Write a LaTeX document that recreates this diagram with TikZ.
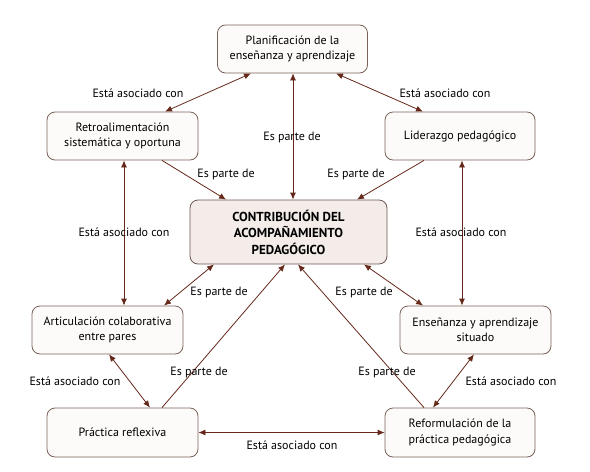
\documentclass[tikz,border=0pt]{standalone}
\usepackage{fontspec}
\setmainfont{PT Sans}
\usetikzlibrary{arrows.meta}
\definecolor{boxline}{HTML}{7A625A}
\definecolor{boxfill}{HTML}{FDFBF9}
\definecolor{mainfill}{HTML}{F3ECE8}
\definecolor{arr}{HTML}{65281A}
\tikzset{
  x=1pt,y=1pt,
  box/.style={draw=boxline,fill=boxfill,rounded corners=8pt,line width=0.8pt,align=center,inner sep=0pt,font=\fontsize{12}{15.5}\selectfont,text=black},
  mainbox/.style={box,fill=mainfill,draw=boxline!90!black,font=\bfseries\fontsize{13}{16.5}\selectfont},
  lbl/.style={font=\fontsize{12}{14}\selectfont,inner sep=0pt,text=black},
  con/.style={draw=arr,line width=0.8pt,-{Latex[length=7pt,width=6pt]}},
  bicon/.style={draw=arr,line width=0.8pt,{Latex[length=7pt,width=6pt]}-{Latex[length=7pt,width=6pt]}},
}
\begin{document}
\begin{tikzpicture}
\useasboundingbox (0,0) rectangle (590,-472);
\node[box,minimum width=150,minimum height=48] (plan) at (292.5,-49) {Planificación de la\\enseñanza y aprendizaje};
\node[box,minimum width=151,minimum height=48] (retro) at (122.5,-136) {Retroalimentación\\sistemática y oportuna};
\node[box,minimum width=150,minimum height=48] (lider) at (460,-136) {Liderazgo pedagógico};
\node[mainbox,minimum width=197,minimum height=64] (contrib) at (288.5,-232) {CONTRIBUCIÓN DEL\\ACOMPAÑAMIENTO\\PEDAGÓGICO};
\node[box,minimum width=151,minimum height=48] (artic) at (107.5,-330) {Articulación colaborativa\\entre pares};
\node[box,minimum width=151,minimum height=48] (ense) at (475.5,-330) {Enseñanza y aprendizaje\\situado};
\node[box,minimum width=151,minimum height=49] (pract) at (122.5,-432.5) {Práctica reflexiva};
\node[box,minimum width=150,minimum height=49] (reform) at (460,-432.5) {Reformulación de la\\práctica pedagógica};

\draw[bicon] ([xshift=-41.5pt]plan.south) -- ([xshift=42.5pt]retro.north);
\draw[bicon] ([xshift=43.5pt]plan.south) -- ([xshift=-37pt]lider.north);
\draw[bicon] ([xshift=0.5pt]plan.south) -- ([xshift=4.5pt]contrib.north);
\draw[con] ([xshift=39.5pt]retro.south) -- ([xshift=-62.5pt]contrib.north);
\draw[con] ([xshift=-36pt]lider.south) -- ([xshift=68.5pt]contrib.north);
\draw[bicon] ([xshift=1.5pt]retro.south) -- ([xshift=16.5pt]artic.north);
\draw[bicon] ([xshift=2pt]lider.south) -- ([xshift=-13.5pt]ense.north);
\draw[bicon] ([xshift=-74.5pt]contrib.south) -- ([xshift=56.5pt]artic.north);
\draw[bicon] ([xshift=75.5pt]contrib.south) -- ([xshift=-52.5pt]ense.north);
\draw[con] ([xshift=39.5pt]pract.north) -- ([xshift=-3.5pt]contrib.south);
\draw[con] ([xshift=-36pt]reform.north) -- ([xshift=9.5pt]contrib.south);
\draw[bicon] ([xshift=1.5pt]artic.south) -- ([xshift=27.5pt]pract.north);
\draw[bicon] ([xshift=-1.5pt]ense.south) -- ([xshift=-27pt]reform.north);
\draw[bicon] (pract.east) -- (reform.west);

\node[lbl] (l1) at (138,-93) {Está asociado con};
\node[lbl] (l2) at (445,-93) {Está asociado con};
\node[lbl] (l3) at (292,-137) {Es parte de};
\node[lbl] (l4) at (226,-174) {Es parte de};
\node[lbl] (l5) at (356,-174) {Es parte de};
\node[lbl] (l6) at (124,-232) {Está asociado con};
\node[lbl] (l7) at (461,-232) {Está asociado con};
\node[lbl] (l8) at (219,-292) {Es parte de};
\node[lbl] (l9) at (364,-292) {Es parte de};
\node[lbl] (l10) at (199,-372) {Es parte de};
\node[lbl] (l11) at (387,-372) {Es parte de};
\node[lbl] (l12) at (75,-381) {Está asociado con};
\node[lbl] (l13) at (511,-381) {Está asociado con};
\node[lbl] (l14) at (292,-445) {Está asociado con};
\end{tikzpicture}
\end{document}
